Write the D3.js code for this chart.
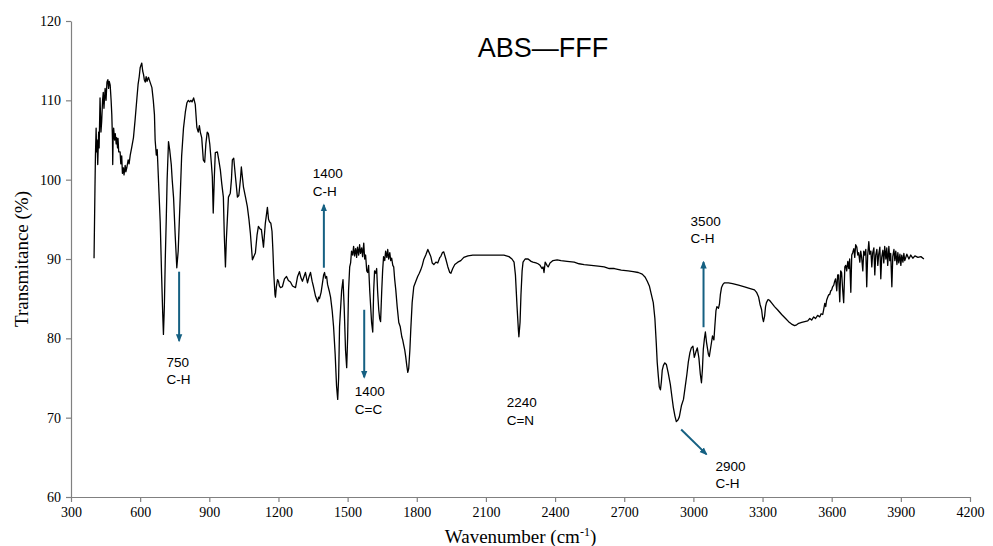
<!DOCTYPE html>
<html>
<head>
<meta charset="utf-8">
<script src="https://cdn.jsdelivr.net/npm/d3@7"></script>
<style>
  body { margin: 0; background: #fff; }
  svg { display: block; }
</style>
</head>
<body>
<div id="chart"></div>
<script>
// FTIR spectrum
const wavenumber = [
  400, 404, 406, 409, 411, 413, 416, 420, 422, 426, 430, 433, 437, 440, 443, 448, 452, 456, 460, 463,
  466, 470, 474, 477, 480, 481, 483, 485, 489, 492, 496, 498, 502, 504, 507, 513, 516, 520, 523, 527,
  530, 535, 538, 542, 548, 552, 557, 563, 571, 578, 586, 591, 596, 600, 607, 611, 615, 618, 622, 626,
  630, 636, 643, 651, 657, 662, 665, 670, 674, 678, 687, 693, 698, 701, 705, 709, 713, 717, 723, 728,
  735, 739, 745, 752, 759, 765, 774, 780, 788, 796, 803, 809, 815, 820, 825, 832, 839, 846, 852, 857,
  861, 867, 874, 880, 885, 891, 896, 902, 909, 913, 917, 922, 926, 935, 941, 948, 954, 961, 965, 970,
  974, 983, 991, 996, 1000, 1006, 1013, 1022, 1028, 1035, 1039, 1043, 1048, 1057, 1065, 1072, 1078, 1087, 1093, 1100,
  1107, 1113, 1120, 1126, 1135, 1143, 1152, 1157, 1161, 1167, 1172, 1176, 1180, 1185, 1187, 1191, 1196, 1200, 1204, 1209,
  1217, 1226, 1235, 1243, 1252, 1261, 1274, 1283, 1291, 1298, 1304, 1311, 1317, 1326, 1333, 1339, 1346, 1352, 1361, 1370,
  1374, 1378, 1385, 1391, 1396, 1400, 1404, 1409, 1413, 1420, 1426, 1433, 1439, 1446, 1452, 1457, 1461, 1465, 1470, 1474,
  1480, 1485, 1491, 1496, 1500, 1504, 1509, 1513, 1517, 1522, 1526, 1530, 1535, 1539, 1543, 1548, 1552, 1556, 1561, 1565,
  1570, 1574, 1578, 1583, 1587, 1591, 1596, 1600, 1604, 1609, 1613, 1617, 1622, 1626, 1630, 1635, 1639, 1643, 1648, 1652,
  1656, 1661, 1665, 1670, 1674, 1678, 1683, 1687, 1691, 1696, 1700, 1704, 1709, 1715, 1722, 1728, 1735, 1739, 1743, 1748,
  1752, 1757, 1761, 1765, 1770, 1774, 1780, 1787, 1796, 1804, 1811, 1817, 1824, 1830, 1839, 1848, 1854, 1861, 1867, 1874,
  1883, 1891, 1900, 1904, 1911, 1917, 1926, 1935, 1943, 1948, 1956, 1965, 1978, 1991, 2004, 2022, 2043, 2078, 2122, 2178,
  2200, 2213, 2222, 2228, 2235, 2241, 2243, 2248, 2252, 2257, 2261, 2270, 2283, 2296, 2304, 2317, 2326, 2335, 2343, 2348,
  2352, 2357, 2365, 2370, 2378, 2391, 2409, 2426, 2452, 2483, 2504, 2526, 2557, 2587, 2613, 2635, 2657, 2687, 2717, 2739,
  2761, 2778, 2791, 2800, 2809, 2817, 2826, 2833, 2839, 2843, 2848, 2852, 2857, 2861, 2865, 2870, 2876, 2883, 2891, 2900,
  2907, 2913, 2920, 2926, 2933, 2939, 2948, 2957, 2965, 2972, 2978, 2985, 2991, 2998, 3004, 3011, 3017, 3024, 3030, 3035,
  3039, 3043, 3048, 3052, 3057, 3065, 3069, 3076, 3083, 3089, 3093, 3098, 3102, 3109, 3113, 3117, 3122, 3128, 3135, 3152,
  3170, 3196, 3222, 3243, 3265, 3274, 3283, 3289, 3296, 3300, 3304, 3309, 3313, 3317, 3324, 3330, 3341, 3352, 3365, 3383,
  3400, 3413, 3426, 3439, 3448, 3457, 3470, 3483, 3496, 3505, 3513, 3522, 3530, 3539, 3548, 3554, 3561, 3565, 3570, 3574,
  3578, 3583, 3587, 3591,
  3596, 3600, 3604, 3609, 3613, 3617, 3622, 3626, 3630, 3635, 3639, 3643, 3648, 3652, 3657, 3661, 3665, 3670, 3674, 3678,
  3683, 3687, 3691, 3696, 3700, 3704, 3709, 3713, 3717, 3722, 3726, 3730, 3735, 3739, 3743, 3748, 3752, 3756, 3761, 3765,
  3770, 3774, 3778, 3783, 3787, 3791, 3796, 3800, 3804, 3809, 3813, 3817, 3822, 3826, 3830, 3835, 3839, 3843, 3848, 3852,
  3856, 3861, 3865, 3870, 3874, 3878, 3883, 3887, 3891, 3896, 3900, 3904, 3909, 3913, 3917, 3926, 3935, 3943, 3952, 3961,
  3974, 3987, 4000
];

const transmittance = [
  90.1, 99, 103, 106.5, 103.5, 105, 101.9, 106, 104, 110.3, 106, 107.3, 110, 111, 109, 111.5, 110, 112.3, 112.6, 111.5,
  112.4, 111.9, 110, 108.2, 105, 101.9, 105.5, 106.5, 105, 105.8, 104.5, 105.3, 104, 105.2, 103.5, 103.5, 102, 103, 100.8, 101.5,
  100.6, 101.8, 101, 101.5, 102.5, 102, 103.1, 104, 105.3, 107.5, 110.3, 112, 113, 114.1, 114.7, 113.7, 113.2, 112.6, 112.3, 113,
  112.4, 112.9, 112.3, 111.6, 110, 108.2, 105, 103.1, 103.8, 101, 94.7, 88, 83, 80.5, 84, 90, 94.7, 100, 104.8, 103.8,
  101.9, 100, 97.7, 93, 88.9, 91, 98, 103, 106.5, 108.5, 109.7, 110, 109.8, 110, 109.8, 110.3, 109.5, 106.6, 106, 106.8,
  106, 105.3, 102.5, 102.2, 104.5, 106, 105.8, 104.5, 102, 100.4, 95.8, 100.5, 103.4, 103.5, 102.5, 101.2, 99.5, 97.8, 93, 89,
  92.5, 97.8, 98.3, 100, 102.5, 102.7, 100.5, 97.8, 98, 100, 101.6, 100.5, 99.1, 97.8, 96.6, 95, 93.3, 89.9, 90.3, 90.8,
  93, 94.1, 93.8, 93.7, 91.5, 94.5, 96.5, 95, 94.7, 94.5, 93.5, 91, 88, 85.5, 85.2, 86.5, 87.4, 87.2, 86.6, 86.4,
  86.5, 87.5, 87.8, 87.3, 87.1, 86.6, 86.4, 87.8, 88.4, 87.6, 87.2, 87.8, 88.3, 87, 87.8, 88.3, 87.2, 86.5, 85.3, 84.6,
  85.2, 85, 85.8, 87, 88, 88.3, 87.6, 87.8, 86.8, 86, 85.2, 83.5, 81.5, 78, 74, 72.3, 75, 81.5, 84, 86,
  87.4, 84, 78.5, 76.3, 80, 86, 89, 89.5, 91, 90.5, 91.6, 90.4, 91.3, 90.2, 91.5, 90.5, 91.8, 90.7, 91.4, 90.3,
  92, 90, 90.5, 88.5, 88.3, 89.2, 86, 84, 82, 80.8, 86, 88.5, 88.2, 88.8, 86, 83.6, 82.5, 82.1, 86, 88.6,
  90.3, 89.8, 91, 90.2, 91.2, 90, 90.8, 89.8, 90.1, 89.2, 89, 87.5, 86.1, 84, 82, 81.5, 80.2, 79.8, 79.2, 78.5,
  77.7, 76.5, 75.7, 76.2, 78.5, 81.1, 84.5, 86.5, 87.2, 87.8, 88.2, 88.6, 89.2, 89.9, 90.5, 91.2, 90.8, 90.3, 89.5, 89.3,
  89.6, 89.5, 90.2, 90.3, 90.8, 90.9, 90, 89, 88.3, 88.2, 88.8, 89.3, 89.6, 89.8, 90.2, 90.4, 90.5, 90.5, 90.5, 90.5,
  90.3, 90, 89.6, 88, 84, 81, 80.2, 82, 85.5, 88.5, 89.6, 90, 90, 89.7, 89.6, 89.5, 89.4, 89.2, 88.8, 89,
  88.3, 89.6, 89.2, 89, 89.5, 89.8, 89.9, 89.8, 89.7, 89.6, 89.4, 89.3, 89.2, 89.1, 89, 88.8, 88.8, 88.6, 88.5, 88.4,
  88.3, 88.1, 87.7, 87.2, 86.6, 85.6, 84.5, 82.5, 79.4, 77, 75.2, 73.9, 73.5, 74.5, 76, 76.6, 76.9, 76.7, 75.6, 74.2,
  72.6, 71.3, 70.2, 69.5, 69.7, 70.1, 71.5, 72.3, 74, 75.5, 77, 78.2, 78.8, 79, 77.6, 78.3, 78.8, 77.5, 75.5, 74.4,
  76, 78.6, 80, 80.8, 79.5, 78, 77.7, 79, 80.3, 79.8, 81.5, 83.5, 84, 83.8, 84.3, 85.5, 86.4, 86.8, 87, 87,
  86.9, 86.7, 86.5, 86.3, 86.1, 85.8, 85.2, 84.3, 83.6, 82.6, 82.1, 82.8, 84, 84.5, 84.9, 84.8, 84.4, 84, 83.6, 83,
  82.5, 82.1, 81.8, 81.6, 81.7, 81.9, 82, 82.1, 82.2, 82.5, 82.3, 82.7, 82.5, 82.9, 82.7, 83.1, 83, 83.6, 84.4, 84,
  84.8, 85.2, 85.5, 85.5,
  86, 86.1, 86.5, 86.7, 87.2, 87.5, 86, 88, 88, 84.6, 88.5, 88.3, 86, 84.5, 89, 89.2, 88.5, 89.7, 88.8, 90,
  85.8, 90.5, 90.8, 91.3, 90.2, 91.8, 91.5, 90.5, 90.8, 89.6, 91, 90.2, 88.5, 91, 90.5, 91.2, 86.5, 90.4, 92.2, 90.6,
  91, 89, 90.8, 91.4, 88, 90.5, 91.2, 89.2, 90.6, 91.5, 87.5, 90.2, 91.1, 89.5, 91.6, 90, 91.4, 89.2, 91.6, 89.8,
  90.7, 86.5, 90.3, 91.2, 89.8, 91, 89.3, 90.8, 89.5, 90.6, 89.2, 90.5, 89.6, 90.7, 89.8, 90.6, 90, 90.5, 90.1, 90.4,
  90.2, 90.3, 90
];

const xTicks = [300, 600, 900, 1200, 1500, 1800, 2100, 2400, 2700, 3000, 3300, 3600, 3900, 4200];
const yTicks = [60, 70, 80, 90, 100, 110, 120];

// peak labels: where the text sits, and the arrow (if any) in data units
const labelWavenumber = [714, 1349, 1531, 2190, 2988, 3096];
const labelTransmittance = [76.4, 100.2, 72.7, 71.3, 94.2, 63.3];
const labelLines = [["750", "C-H"], ["1400", "C-H"], ["1400", "C=C"], ["2240", "C=N"], ["3500", "C-H"], ["2900", "C-H"]];
const arrows = [
  [769, 88.4, 769, 79.7],
  [1397, 88.9, 1397, 96.8],
  [1572, 83.6, 1572, 75.1],
  [3044, 81.4, 3044, 89.6],
  [2947, 68.5, 3056, 65.4]
];

const chartSettings = {
  width: 993,
  height: 546,
  left: 71,
  right: 970,
  top: 21,
  bottom: 497,
  arrowColor: "#156082",
  axisColor: "#808080",
  serif: "'Liberation Serif', 'Times New Roman', serif",
  sans: "'Liberation Sans', Arial, sans-serif",
};

const spectrum = wavenumber.map((w, i) => ({ w, t: transmittance[i] }));

const x = d3.scaleLinear().domain([300, 4200]).range([chartSettings.left, chartSettings.right]);
const y = d3.scaleLinear().domain([60, 120]).range([chartSettings.bottom, chartSettings.top]);

const svg = d3.select("#chart").append("svg")
  .attr("width", chartSettings.width)
  .attr("height", chartSettings.height);

svg.append("defs").append("marker")
  .attr("id", "head")
  .attr("viewBox", "0 0 10 10")
  .attr("refX", 8)
  .attr("refY", 5)
  .attr("markerUnits", "userSpaceOnUse")
  .attr("markerWidth", 8)
  .attr("markerHeight", 8)
  .attr("orient", "auto")
  .append("path")
  .attr("d", "M0,1 L10,5 L0,9 z")
  .attr("fill", chartSettings.arrowColor);

// axes
const xAxis = svg.append("g")
  .attr("transform", `translate(0,${chartSettings.bottom})`)
  .call(d3.axisBottom(x).tickValues(xTicks).tickFormat(d3.format("d"))
    .tickSize(5).tickSizeOuter(0).tickPadding(5));

const yAxis = svg.append("g")
  .attr("transform", `translate(${chartSettings.left},0)`)
  .call(d3.axisLeft(y).tickValues(yTicks).tickFormat(d3.format("d"))
    .tickSize(5).tickSizeOuter(0).tickPadding(5));

[xAxis, yAxis].forEach(g => {
  g.select(".domain").attr("stroke", chartSettings.axisColor).attr("stroke-width", 1.2);
  g.selectAll(".tick line").attr("stroke", chartSettings.axisColor).attr("stroke-width", 1.2);
  g.selectAll(".tick text")
    .attr("fill", "#000")
    .style("font-family", chartSettings.serif)
    .style("font-size", "14px");
});

// spectrum line
const line = d3.line().x(d => x(d.w)).y(d => y(d.t));
svg.append("path")
  .datum(spectrum)
  .attr("d", line)
  .attr("fill", "none")
  .attr("stroke", "#000")
  .attr("stroke-width", 1.3)
  .attr("stroke-linejoin", "round");

// arrows
svg.append("g").selectAll("line")
  .data(arrows)
  .join("line")
  .attr("x1", d => x(d[0]))
  .attr("y1", d => y(d[1]))
  .attr("x2", d => x(d[2]))
  .attr("y2", d => y(d[3]))
  .attr("stroke", chartSettings.arrowColor)
  .attr("stroke-width", 2)
  .attr("marker-end", "url(#head)");

// peak labels
const labels = svg.append("g").selectAll("text")
  .data(labelLines)
  .join("text")
  .attr("x", (d, i) => x(labelWavenumber[i]))
  .attr("y", (d, i) => y(labelTransmittance[i]))
  .style("font-family", chartSettings.sans)
  .style("font-size", "13.5px")
  .attr("fill", "#000");

labels.each(function(d) {
  const t = d3.select(this);
  const x0 = t.attr("x");
  d.forEach((s, k) => {
    t.append("tspan").attr("x", x0).attr("dy", k === 0 ? 0 : 17.5).text(s);
  });
});

// title
svg.append("text")
  .attr("x", 543)
  .attr("y", 57)
  .attr("text-anchor", "middle")
  .style("font-family", chartSettings.sans)
  .style("font-size", "27px")
  .text("ABS\u2014FFF");

// axis titles
const xTitle = svg.append("text")
  .attr("x", (chartSettings.left + chartSettings.right) / 2)
  .attr("y", 543)
  .attr("text-anchor", "middle")
  .style("font-family", chartSettings.serif)
  .style("font-size", "19px");
xTitle.append("tspan").text("Wavenumber (cm");
xTitle.append("tspan").attr("dy", -7).style("font-size", "12px").text("-1");
xTitle.append("tspan").attr("dy", 7).text(")");

svg.append("text")
  .attr("transform", `translate(28,${(chartSettings.top + chartSettings.bottom) / 2}) rotate(-90)`)
  .attr("text-anchor", "middle")
  .style("font-family", chartSettings.serif)
  .style("font-size", "19px")
  .text("Transmitance (%)");
</script>
</body>
</html>
